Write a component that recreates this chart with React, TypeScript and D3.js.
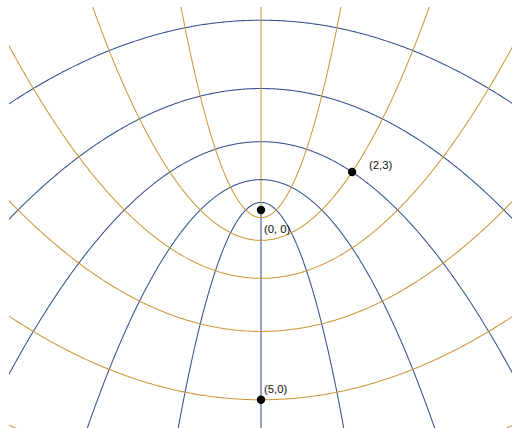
import React from "react";
import * as d3 from "d3";

// Parabolic coordinates: x = σ·τ, y = (τ² − σ²)/2
const sigmaValues = [0, 1, 2, 3, 4, 5, 6]; // constant-σ curves (golden)
const tauValues = [0, 1, 2, 3, 4, 5, 6]; // constant-τ curves (blue)
const pointSigma = [0, 2, 5];
const pointTau = [0, 3, 0];
const pointLabels = ["(0, 0)", "(2,3)", "(5,0)"];

const W = 512;
const H = 428;
const GOLD = "#CD983C";
const BLUE = "#35528F";

export default function App() {
  const x = d3.scaleLinear().domain([-16.6, 16.47]).range([9, 511]);
  const y = d3.scaleLinear().domain([13.37, -14.36]).range([7, 428]);

  const params = d3.range(-8, 8.0001, 0.02);
  const line = d3
    .line<[number, number]>()
    .x((d) => x(d[0]))
    .y((d) => y(d[1]));

  const sigmaPath = (s: number) => {
    const ts = s === 0 ? params.filter((t) => t >= 0) : params;
    return line(ts.map((t) => [s * t, (t * t - s * s) / 2]));
  };
  const tauPath = (t: number) => {
    const ss = t === 0 ? params.filter((s) => s >= 0) : params;
    return line(ss.map((s) => [s * t, (t * t - s * s) / 2]));
  };

  return (
    <svg
      width={W}
      height={H}
      style={{ position: "absolute", left: 0, top: 0, background: "#fff" }}
    >
      <defs>
        <clipPath id="plotClip">
          <rect x={9} y={7} width={503} height={421} />
        </clipPath>
      </defs>
      <g clipPath="url(#plotClip)" fill="none" strokeWidth={1.05}>
        {tauValues.map((t) => (
          <path key={"t" + t} d={tauPath(t) || ""} stroke={BLUE} />
        ))}
        {sigmaValues.map((s) => (
          <path key={"s" + s} d={sigmaPath(s) || ""} stroke={GOLD} />
        ))}
      </g>
      {pointLabels.map((lab, i) => {
        const s = pointSigma[i];
        const t = pointTau[i];
        const px = x(s * t);
        const py = y((t * t - s * s) / 2);
        const isCenter = i === 0;
        const isRight = i === 1;
        const lx = isRight ? px + 17 : px + 3;
        const ly = isCenter ? py + 23 : isRight ? py - 3 : py - 7;
        return (
          <g key={lab}>
            <circle cx={px} cy={py} r={4.2} fill="#000" />
            <text
              x={lx}
              y={ly}
              fontFamily="'Liberation Sans', Arial, sans-serif"
              fontSize={11.3}
              fill="#111"
            >
              {lab}
            </text>
          </g>
        );
      })}
    </svg>
  );
}
